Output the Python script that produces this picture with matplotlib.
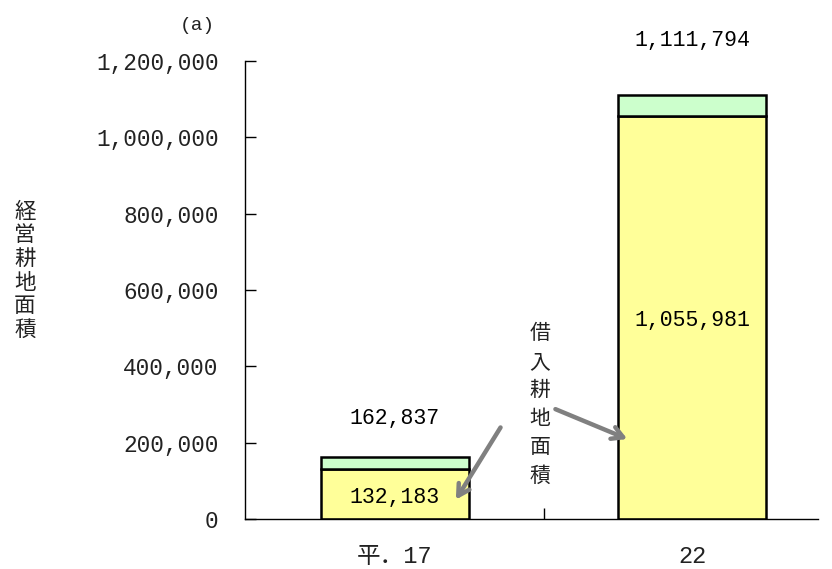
import matplotlib
matplotlib.use("Agg")
import matplotlib.pyplot as plt
from matplotlib.ticker import FuncFormatter

plt.rcParams['font.family'] = ['Noto Sans CJK JP', 'DejaVu Sans']

# data
categories = ["平．17", "22"]
borrowed = [132183, 1055981]     # 借入耕地面積
total = [162837, 1111794]        # 経営耕地面積
other = [t - b for t, b in zip(total, borrowed)]
yticks = [0, 200000, 400000, 600000, 800000, 1000000, 1200000]

yellow = "#FFFF99"
green = "#CCFFCC"

fig = plt.figure(figsize=(8.32, 5.69), dpi=100)
ax = fig.add_axes([0.2945, 0.0879, 0.6885, 0.8049])

x = list(range(len(categories)))
ax.bar(x, borrowed, width=0.497, color=yellow, edgecolor="black", linewidth=1.8, zorder=2)
ax.bar(x, other, bottom=borrowed, width=0.497, color=green, edgecolor="black", linewidth=1.8, zorder=2)

ax.set_xlim(-0.504, 1.422)
ax.set_ylim(0, 1200000)

for s in ["top", "right"]:
    ax.spines[s].set_visible(False)
ax.spines["left"].set_linewidth(1.0)
ax.spines["bottom"].set_linewidth(1.0)

ax.set_yticks(yticks)
ax.yaxis.set_major_formatter(FuncFormatter(lambda v, p: f"{int(v):,}"))
ax.tick_params(axis="y", direction="in", length=8, width=1, pad=19,
               labelsize=16.4, labelfontfamily="Liberation Mono", labelcolor="#222222")

ax.set_xticks(x)
ax.set_xticklabels(categories)
ax.set_xticks([0.5], minor=True)
ax.tick_params(axis="x", which="major", length=0, pad=19, labelsize=17,
               labelfontfamily=["Liberation Mono", "Noto Sans CJK JP"], labelcolor="#222222")
ax.tick_params(axis="x", which="minor", direction="in", length=8, width=1)

# value labels
lab_kw = dict(ha="center", va="center", fontsize=15.5, family="Liberation Mono")
ax.text(0, 262000, f"{total[0]:,}", **lab_kw)
ax.text(0, 57600, f"{borrowed[0]:,}", **lab_kw)
ax.text(1, 1254000, f"{total[1]:,}", **lab_kw)
ax.text(1, 521000, f"{borrowed[1]:,}", **lab_kw)

# y label (vertical stacked)
fig.text(0.030, 0.524, "\n".join("経営耕地面積"), ha="center", va="center",
         fontsize=15.5, linespacing=1.1, color="#222222")
fig.text(0.237, 0.955, "(a)", ha="center", va="center", fontsize=14,
         family="Liberation Mono", color="#222222")

# annotation
ax.text(0.487, 300000, "\n".join("借入耕地面積"), ha="center", va="center",
        fontsize=15, linespacing=1.38, color="#222222")
arrow_kw = dict(arrowstyle="->,head_length=0.8,head_width=0.45", color="#808080", lw=3.2)
ax.annotate("", xy=(0.20, 44500), xytext=(0.36, 246000), arrowprops=arrow_kw)
ax.annotate("", xy=(0.79, 206800), xytext=(0.531, 290600), arrowprops=arrow_kw)

fig.savefig("out.png", dpi=100)
